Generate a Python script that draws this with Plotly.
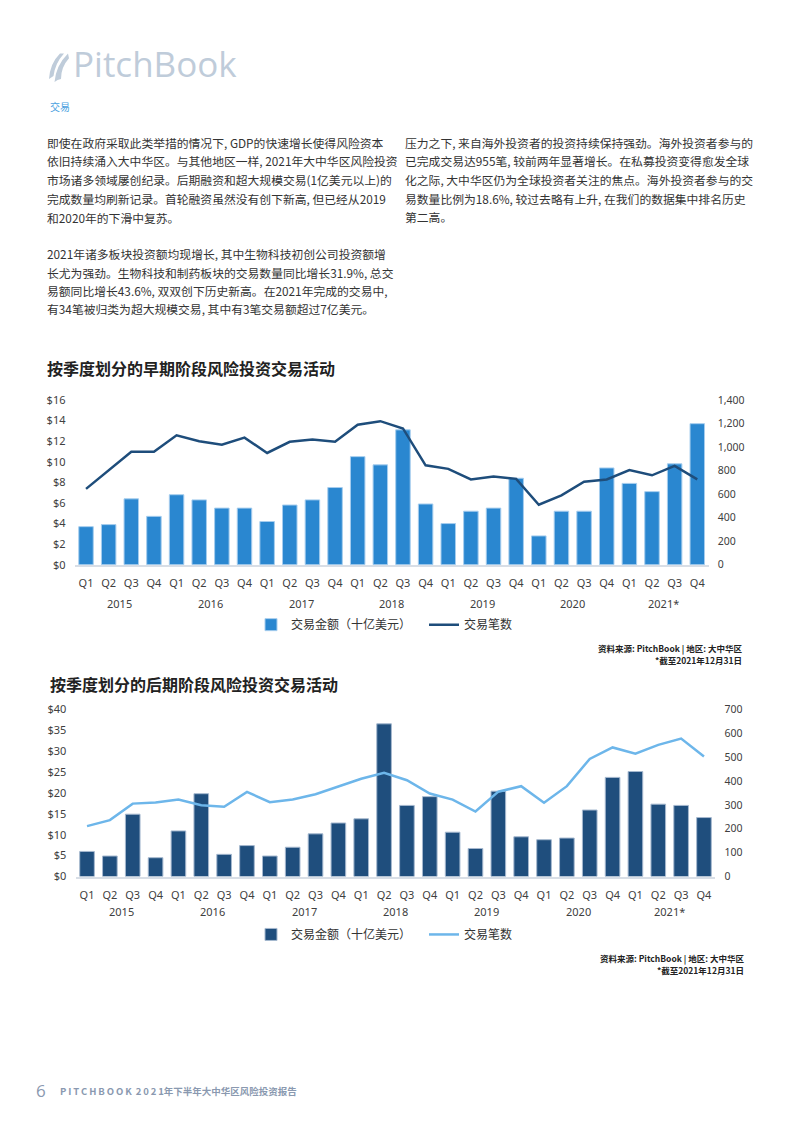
import plotly.graph_objects as go

W, H = 793, 1122

def px(x):
    return x / W

def py(y):
    return 1 - y / H

# ---------------- data ----------------
quarters = ["Q1", "Q2", "Q3", "Q4"] * 7
years = ["2015", "2016", "2017", "2018", "2019", "2020", "2021*"]

early_value = [3.7, 3.9, 6.4, 4.7, 6.8, 6.3, 5.5, 5.5, 4.2, 5.8, 6.3, 7.5,
               10.5, 9.7, 13.1, 5.9, 4.0, 5.2, 5.5, 8.4, 2.8, 5.2, 5.2, 9.4,
               7.9, 7.1, 9.8, 13.7]
early_count = [645, 800, 960, 960, 1100, 1050, 1020, 1080, 950, 1045, 1065, 1045,
               1190, 1220, 1158, 845, 815, 725, 750, 730, 510, 590, 705, 725,
               805, 760, 840, 725]

late_value = [6.0, 4.9, 14.9, 4.5, 10.9, 19.8, 5.3, 7.4, 4.9, 7.0, 10.2, 12.8,
              13.8, 36.5, 17.0, 19.1, 10.6, 6.7, 20.4, 9.5, 8.8, 9.2, 15.9, 23.7,
              25.1, 17.3, 17.0, 14.1]
late_count = [211, 236, 305, 310, 322, 298, 292, 354, 311, 322, 344, 378,
              409, 434, 403, 347, 322, 272, 355, 378, 309, 378, 492, 540,
              514, 551, 577, 502]

left_ticks_1 = [0, 2, 4, 6, 8, 10, 12, 14, 16]
left_ticks_2 = [0, 5, 10, 15, 20, 25, 30, 35, 40]

name_value = "交易金额（十亿美元）"
name_count = "交易笔数"

idx = list(range(len(quarters)))

# ---------------- styles ----------------
CJK = "Noto Sans CJK SC"
TICKF = "Noto Sans, Noto Sans CJK SC"
TXT = "#333333"
C1_BAR, C1_BAR_EDGE, C1_LINE = "#2A87D0", "#A6CDEE", "#1E4D7B"
C2_BAR, C2_BAR_EDGE, C2_LINE = "#1F4E7D", "#A5B8CF", "#6DB6EA"

fig = go.Figure()

# chart 1
fig.add_trace(go.Bar(x=idx, y=early_value, name=name_value, xaxis="x", yaxis="y",
                     marker=dict(color=C1_BAR, line=dict(color=C1_BAR_EDGE, width=1)),
                     legend="legend"))
fig.add_trace(go.Scatter(x=idx, y=early_count, name=name_count, xaxis="x", yaxis="y2",
                         mode="lines", line=dict(color=C1_LINE, width=2.5),
                         legend="legend"))
# chart 2
fig.add_trace(go.Bar(x=idx, y=late_value, name=name_value, xaxis="x3", yaxis="y3",
                     marker=dict(color=C2_BAR, line=dict(color=C2_BAR_EDGE, width=1)),
                     legend="legend2"))
fig.add_trace(go.Scatter(x=idx, y=late_count, name=name_count, xaxis="x3", yaxis="y4",
                         mode="lines", line=dict(color=C2_LINE, width=2.5),
                         legend="legend2"))

tickfont = dict(family=TICKF, size=11, color="#404040")
rtickfont = dict(family=TICKF, size=10.5, color="#404040")

def xaxis_cfg(domain, anchor):
    return dict(domain=domain, anchor=anchor, range=[-0.5, len(idx) - 0.5],
                tickmode="array", tickvals=idx, ticktext=quarters,
                showgrid=False, zeroline=False, showline=True,
                linecolor="#D8DEE6", linewidth=2,
                ticks="outside", ticklen=7, tickcolor="rgba(0,0,0,0)",
                tickfont=tickfont, fixedrange=True)

def yaxis_cfg(domain, anchor, rng, tvals, ttext, side="left", overlay=None):
    d = dict(domain=domain, anchor=anchor, range=rng, side=side,
             tickmode="array", tickvals=tvals, ticktext=ttext,
             showgrid=False, zeroline=False, showline=False,
             ticks="outside", ticklen=6, tickcolor="rgba(0,0,0,0)",
             tickfont=tickfont if side == "left" else rtickfont, fixedrange=True)
    if overlay:
        d["overlaying"] = overlay
    return d

dom_y1 = [py(564.3), py(397.3)]
dom_y2 = [py(880.3), py(710.7)]

right1 = list(range(0, 1401, 200))
right2 = list(range(0, 701, 100))

fig.update_layout(
    width=W, height=H,
    margin=dict(l=0, r=0, t=0, b=0),
    paper_bgcolor="white", plot_bgcolor="rgba(0,0,0,0)",
    bargap=0.36,
    showlegend=True,
    xaxis=xaxis_cfg([px(74.7), px(708.6)], "y"),
    yaxis=yaxis_cfg(dom_y1, "x", [0, 16], left_ticks_1, ["$%d" % v for v in left_ticks_1]),
    yaxis2=yaxis_cfg(dom_y1, "x", [0, 1400], right1, [f"{v:,}" for v in right1],
                     side="right", overlay="y"),
    xaxis3=xaxis_cfg([px(75.6), px(715.4)], "y3"),
    yaxis3=yaxis_cfg(dom_y2, "x3", [0, 40], left_ticks_2, ["$%d" % v for v in left_ticks_2]),
    yaxis4=yaxis_cfg(dom_y2, "x3", [0, 700], right2, [f"{v:,}" for v in right2],
                     side="right", overlay="y3"),
    legend=dict(x=px(251), y=py(625), xanchor="left", yanchor="middle",
                orientation="h", font=dict(family=CJK, size=12, color=TXT),
                bgcolor="rgba(0,0,0,0)", itemwidth=30, entrywidth=128,
                traceorder="normal"),
    legend2=dict(x=px(251), y=py(939), xanchor="left", yanchor="middle",
                 orientation="h", font=dict(family=CJK, size=12, color=TXT),
                 bgcolor="rgba(0,0,0,0)", itemwidth=30, entrywidth=128,
                 traceorder="normal"),
)

ann = []

def text(x, y, s, size=12, color=TXT, anchor="left", family=CJK, weight=None, yanchor="middle"):
    f = dict(family=family, size=size, color=color)
    if weight:
        f["weight"] = weight
    ann.append(dict(x=px(x), y=py(y), xref="paper", yref="paper", text=s,
                    showarrow=False, xanchor=anchor, yanchor=yanchor, font=f))

# header
text(71, 56, "PitchBook", size=35, color="#BFCCDA", family="Open Sans")
text(48, 100, "交易", size=10, color="#4A9FE0")

# body text
left_lines = [
    (140, "即使在政府采取此类举措的情况下, GDP的快速增长使得风险资本"),
    (159, "依旧持续涌入大中华区。与其他地区一样, 2021年大中华区风险投资"),
    (178, "市场诸多领域屡创纪录。后期融资和超大规模交易(1亿美元以上)的"),
    (197, "完成数量均刷新记录。首轮融资虽然没有创下新高, 但已经从2019"),
    (216, "和2020年的下滑中复苏。"),
    (253, "2021年诸多板块投资额均现增长, 其中生物科技初创公司投资额增"),
    (272, "长尤为强劲。生物科技和制药板块的交易数量同比增长31.9%, 总交"),
    (290, "易额同比增长43.6%, 双双创下历史新高。在2021年完成的交易中,"),
    (309, "有34笔被归类为超大规模交易, 其中有3笔交易额超过7亿美元。"),
]
right_lines = [
    (140, "压力之下, 来自海外投资者的投资持续保持强劲。海外投资者参与的"),
    (159, "已完成交易达955笔, 较前两年显著增长。在私募投资变得愈发全球"),
    (178, "化之际, 大中华区仍为全球投资者关注的焦点。海外投资者参与的交"),
    (197, "易数量比例为18.6%, 较过去略有上升, 在我们的数据集中排名历史"),
    (215, "第二高。"),
]
for y, s in left_lines:
    text(45, y - 4, s, size=11.8)
for y, s in right_lines:
    text(403, y - 4, s, size=11.8)

# chart titles
text(45, 365, "按季度划分的早期阶段风险投资交易活动", size=16, color="#222222", weight=700)
text(48, 685, "按季度划分的后期阶段风险投资交易活动", size=16, color="#222222", weight=700)

# year labels (category groups)
for i, yr in enumerate(years):
    ann.append(dict(x=4 * i + 1.5, y=py(604), xref="x", yref="paper", text=yr,
                    showarrow=False, xanchor="center", yanchor="middle",
                    font=dict(family=TICKF, size=11, color="#404040")))
    ann.append(dict(x=4 * i + 1.5, y=py(916), xref="x3", yref="paper", text=yr,
                    showarrow=False, xanchor="center", yanchor="middle",
                    font=dict(family=TICKF, size=11, color="#404040")))

# sources
for (y1, y2, xr) in [(649, 661, 744), (963, 975, 746)]:
    text(xr, y1, "资料来源: PitchBook | 地区: 大中华区", size=8.5, color="#222222", anchor="right", weight=700)
    text(xr, y2, "*截至2021年12月31日", size=8.5, color="#222222", anchor="right", weight=700)

# footer
text(34, 1097, "6", size=17, color="#8A99B0", family="Open Sans")
text(58, 1098, "P\u2009I\u2009T\u2009C\u2009H\u2009B\u2009O\u2009O\u2009K\u2009 2\u20090\u20092\u20091年下半年大中华区风险投资报告",
     size=9.5, color="#8A99B0", weight=700)

fig.update_layout(annotations=ann)

# logo icon (decorative)
def path(pts_cmds):
    out = []
    for c in pts_cmds:
        if isinstance(c, str):
            out.append(c)
        else:
            out.append(f"{px(c[0]):.5f},{py(c[1]):.5f}")
    return " ".join(out)

logo1 = path(["M", (49, 72), "Q", (50, 56), (60, 46), "L", (64, 46), "Q", (55, 56), (53.5, 69), "Z"])
logo2 = path(["M", (54.5, 75), "Q", (56, 58), (68, 46), "L", (69, 51), "Q", (61, 60), (61, 72),
              "Q", (57.5, 72.5), (54.5, 75), "Z"])
fig.update_layout(shapes=[
    dict(type="path", xref="paper", yref="paper", path=logo1,
         fillcolor="#BFCCDA", line=dict(width=0)),
    dict(type="path", xref="paper", yref="paper", path=logo2,
         fillcolor="#BFCCDA", line=dict(width=0)),
])

fig.write_html("out.html", config={"displayModeBar": False},
               post_script="document.body.style.margin='0';document.body.style.padding='0';")
